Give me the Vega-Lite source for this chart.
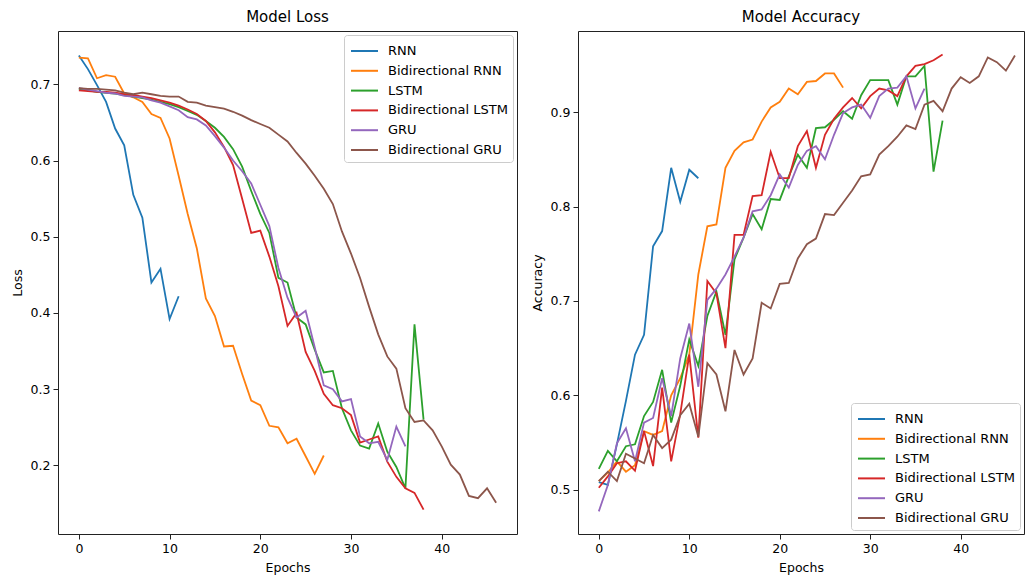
{
  "$schema": "https://vega.github.io/schema/vega-lite/v6.json",
  "padding": {"left": 10, "top": 9, "right": 0, "bottom": 0},
  "spacing": 12,
  "background": "white",
  "config": {
    "font": "DejaVu Sans",
    "view": {"stroke": "#222", "strokeWidth": 1},
    "title": {"fontSize": 15, "fontWeight": "normal", "color": "black", "offset": 6, "anchor": "middle", "font": "DejaVu Sans"},
    "axis": {"labelFont": "DejaVu Sans", "titleFont": "DejaVu Sans", "labelFontSize": 12.5, "titleFontSize": 12.5, "titleFontWeight": "normal", "labelColor": "black", "titleColor": "black", "tickColor": "#222", "tickSize": 5, "labelPadding": 3, "grid": false, "domain": false},
    "axisX": {"titlePadding": 7},
    "axisY": {"titlePadding": 6},
    "legend": {"labelFont": "DejaVu Sans", "labelFontSize": 13, "labelColor": "black", "symbolType": "M-0.9,0H1.8", "symbolSize": 400, "symbolStrokeWidth": 2, "labelOffset": 17, "strokeColor": "#cccccc", "fillColor": "rgba(255,255,255,0.85)", "padding": 5, "cornerRadius": 3, "rowPadding": 1.8, "offset": 4, "title": null}
  },
  "datasets": {
    "d": [
      {"m":"RNN","e":0,"loss":0.738,"acc":0.508},{"m":"RNN","e":1,"loss":0.72,"acc":0.505},{"m":"RNN","e":2,"loss":0.699,"acc":0.548},{"m":"RNN","e":3,"loss":0.677,"acc":0.594},{"m":"RNN","e":4,"loss":0.642,"acc":0.643},{"m":"RNN","e":5,"loss":0.62,"acc":0.664},{"m":"RNN","e":6,"loss":0.555,"acc":0.758},{"m":"RNN","e":7,"loss":0.525,"acc":0.774},{"m":"RNN","e":8,"loss":0.44,"acc":0.841},{"m":"RNN","e":9,"loss":0.458,"acc":0.805},{"m":"RNN","e":10,"loss":0.392,"acc":0.839},{"m":"RNN","e":11,"loss":0.422,"acc":0.83},
      {"m":"Bidirectional RNN","e":0,"loss":0.735,"acc":0.509},{"m":"Bidirectional RNN","e":1,"loss":0.734,"acc":0.518},{"m":"Bidirectional RNN","e":2,"loss":0.708,"acc":0.53},{"m":"Bidirectional RNN","e":3,"loss":0.712,"acc":0.519},{"m":"Bidirectional RNN","e":4,"loss":0.71,"acc":0.526},{"m":"Bidirectional RNN","e":5,"loss":0.688,"acc":0.562},{"m":"Bidirectional RNN","e":6,"loss":0.683,"acc":0.558},{"m":"Bidirectional RNN","e":7,"loss":0.677,"acc":0.562},{"m":"Bidirectional RNN","e":8,"loss":0.661,"acc":0.6},{"m":"Bidirectional RNN","e":9,"loss":0.656,"acc":0.618},{"m":"Bidirectional RNN","e":10,"loss":0.629,"acc":0.643},{"m":"Bidirectional RNN","e":11,"loss":0.58,"acc":0.728},{"m":"Bidirectional RNN","e":12,"loss":0.53,"acc":0.779},{"m":"Bidirectional RNN","e":13,"loss":0.485,"acc":0.781},{"m":"Bidirectional RNN","e":14,"loss":0.419,"acc":0.841},{"m":"Bidirectional RNN","e":15,"loss":0.396,"acc":0.859},{"m":"Bidirectional RNN","e":16,"loss":0.356,"acc":0.868},{"m":"Bidirectional RNN","e":17,"loss":0.357,"acc":0.871},{"m":"Bidirectional RNN","e":18,"loss":0.32,"acc":0.89},{"m":"Bidirectional RNN","e":19,"loss":0.285,"acc":0.905},{"m":"Bidirectional RNN","e":20,"loss":0.279,"acc":0.911},{"m":"Bidirectional RNN","e":21,"loss":0.252,"acc":0.925},{"m":"Bidirectional RNN","e":22,"loss":0.25,"acc":0.919},{"m":"Bidirectional RNN","e":23,"loss":0.229,"acc":0.932},{"m":"Bidirectional RNN","e":24,"loss":0.235,"acc":0.933},{"m":"Bidirectional RNN","e":25,"loss":0.212,"acc":0.941},{"m":"Bidirectional RNN","e":26,"loss":0.189,"acc":0.941},{"m":"Bidirectional RNN","e":27,"loss":0.213,"acc":0.926},
      {"m":"LSTM","e":0,"loss":0.694,"acc":0.522},{"m":"LSTM","e":1,"loss":0.692,"acc":0.541},{"m":"LSTM","e":2,"loss":0.69,"acc":0.53},{"m":"LSTM","e":3,"loss":0.689,"acc":0.546},{"m":"LSTM","e":4,"loss":0.688,"acc":0.548},{"m":"LSTM","e":5,"loss":0.686,"acc":0.578},{"m":"LSTM","e":6,"loss":0.684,"acc":0.593},{"m":"LSTM","e":7,"loss":0.682,"acc":0.627},{"m":"LSTM","e":8,"loss":0.68,"acc":0.571},{"m":"LSTM","e":9,"loss":0.677,"acc":0.61},{"m":"LSTM","e":10,"loss":0.674,"acc":0.659},{"m":"LSTM","e":11,"loss":0.67,"acc":0.631},{"m":"LSTM","e":12,"loss":0.665,"acc":0.684},{"m":"LSTM","e":13,"loss":0.66,"acc":0.71},{"m":"LSTM","e":14,"loss":0.652,"acc":0.664},{"m":"LSTM","e":15,"loss":0.643,"acc":0.744},{"m":"LSTM","e":16,"loss":0.631,"acc":0.767},{"m":"LSTM","e":17,"loss":0.615,"acc":0.792},{"m":"LSTM","e":18,"loss":0.592,"acc":0.776},{"m":"LSTM","e":19,"loss":0.56,"acc":0.808},{"m":"LSTM","e":20,"loss":0.53,"acc":0.807},{"m":"LSTM","e":21,"loss":0.505,"acc":0.832},{"m":"LSTM","e":22,"loss":0.446,"acc":0.855},{"m":"LSTM","e":23,"loss":0.44,"acc":0.841},{"m":"LSTM","e":24,"loss":0.394,"acc":0.883},{"m":"LSTM","e":25,"loss":0.385,"acc":0.884},{"m":"LSTM","e":26,"loss":0.352,"acc":0.892},{"m":"LSTM","e":27,"loss":0.322,"acc":0.901},{"m":"LSTM","e":28,"loss":0.324,"acc":0.893},{"m":"LSTM","e":29,"loss":0.275,"acc":0.918},{"m":"LSTM","e":30,"loss":0.246,"acc":0.934},{"m":"LSTM","e":31,"loss":0.226,"acc":0.934},{"m":"LSTM","e":32,"loss":0.222,"acc":0.934},{"m":"LSTM","e":33,"loss":0.255,"acc":0.908},{"m":"LSTM","e":34,"loss":0.218,"acc":0.938},{"m":"LSTM","e":35,"loss":0.198,"acc":0.938},{"m":"LSTM","e":36,"loss":0.17,"acc":0.949},{"m":"LSTM","e":37,"loss":0.385,"acc":0.837},{"m":"LSTM","e":38,"loss":0.26,"acc":0.891},
      {"m":"Bidirectional LSTM","e":0,"loss":0.692,"acc":0.502},{"m":"Bidirectional LSTM","e":1,"loss":0.691,"acc":0.514},{"m":"Bidirectional LSTM","e":2,"loss":0.69,"acc":0.528},{"m":"Bidirectional LSTM","e":3,"loss":0.69,"acc":0.53},{"m":"Bidirectional LSTM","e":4,"loss":0.689,"acc":0.52},{"m":"Bidirectional LSTM","e":5,"loss":0.687,"acc":0.562},{"m":"Bidirectional LSTM","e":6,"loss":0.686,"acc":0.525},{"m":"Bidirectional LSTM","e":7,"loss":0.684,"acc":0.608},{"m":"Bidirectional LSTM","e":8,"loss":0.682,"acc":0.53},{"m":"Bidirectional LSTM","e":9,"loss":0.679,"acc":0.58},{"m":"Bidirectional LSTM","e":10,"loss":0.676,"acc":0.643},{"m":"Bidirectional LSTM","e":11,"loss":0.672,"acc":0.555},{"m":"Bidirectional LSTM","e":12,"loss":0.667,"acc":0.721},{"m":"Bidirectional LSTM","e":13,"loss":0.661,"acc":0.708},{"m":"Bidirectional LSTM","e":14,"loss":0.652,"acc":0.65},{"m":"Bidirectional LSTM","e":15,"loss":0.637,"acc":0.77},{"m":"Bidirectional LSTM","e":16,"loss":0.618,"acc":0.77},{"m":"Bidirectional LSTM","e":17,"loss":0.594,"acc":0.811},{"m":"Bidirectional LSTM","e":18,"loss":0.55,"acc":0.812},{"m":"Bidirectional LSTM","e":19,"loss":0.505,"acc":0.858},{"m":"Bidirectional LSTM","e":20,"loss":0.508,"acc":0.83},{"m":"Bidirectional LSTM","e":21,"loss":0.474,"acc":0.83},{"m":"Bidirectional LSTM","e":22,"loss":0.435,"acc":0.864},{"m":"Bidirectional LSTM","e":23,"loss":0.383,"acc":0.88},{"m":"Bidirectional LSTM","e":24,"loss":0.4,"acc":0.841},{"m":"Bidirectional LSTM","e":25,"loss":0.349,"acc":0.876},{"m":"Bidirectional LSTM","e":26,"loss":0.324,"acc":0.893},{"m":"Bidirectional LSTM","e":27,"loss":0.294,"acc":0.905},{"m":"Bidirectional LSTM","e":28,"loss":0.279,"acc":0.915},{"m":"Bidirectional LSTM","e":29,"loss":0.275,"acc":0.904},{"m":"Bidirectional LSTM","e":30,"loss":0.266,"acc":0.917},{"m":"Bidirectional LSTM","e":31,"loss":0.23,"acc":0.925},{"m":"Bidirectional LSTM","e":32,"loss":0.234,"acc":0.923},{"m":"Bidirectional LSTM","e":33,"loss":0.238,"acc":0.917},{"m":"Bidirectional LSTM","e":34,"loss":0.205,"acc":0.938},{"m":"Bidirectional LSTM","e":35,"loss":0.185,"acc":0.949},{"m":"Bidirectional LSTM","e":36,"loss":0.17,"acc":0.951},{"m":"Bidirectional LSTM","e":37,"loss":0.164,"acc":0.955},{"m":"Bidirectional LSTM","e":38,"loss":0.142,"acc":0.961},
      {"m":"GRU","e":0,"loss":0.695,"acc":0.477},{"m":"GRU","e":1,"loss":0.693,"acc":0.505},{"m":"GRU","e":2,"loss":0.691,"acc":0.549},{"m":"GRU","e":3,"loss":0.689,"acc":0.565},{"m":"GRU","e":4,"loss":0.688,"acc":0.53},{"m":"GRU","e":5,"loss":0.685,"acc":0.571},{"m":"GRU","e":6,"loss":0.684,"acc":0.576},{"m":"GRU","e":7,"loss":0.683,"acc":0.618},{"m":"GRU","e":8,"loss":0.679,"acc":0.578},{"m":"GRU","e":9,"loss":0.676,"acc":0.639},{"m":"GRU","e":10,"loss":0.671,"acc":0.676},{"m":"GRU","e":11,"loss":0.666,"acc":0.609},{"m":"GRU","e":12,"loss":0.657,"acc":0.701},{"m":"GRU","e":13,"loss":0.654,"acc":0.713},{"m":"GRU","e":14,"loss":0.646,"acc":0.728},{"m":"GRU","e":15,"loss":0.632,"acc":0.747},{"m":"GRU","e":16,"loss":0.617,"acc":0.767},{"m":"GRU","e":17,"loss":0.6,"acc":0.795},{"m":"GRU","e":18,"loss":0.586,"acc":0.797},{"m":"GRU","e":19,"loss":0.57,"acc":0.812},{"m":"GRU","e":20,"loss":0.542,"acc":0.834},{"m":"GRU","e":21,"loss":0.514,"acc":0.82},{"m":"GRU","e":22,"loss":0.459,"acc":0.844},{"m":"GRU","e":23,"loss":0.42,"acc":0.859},{"m":"GRU","e":24,"loss":0.394,"acc":0.864},{"m":"GRU","e":25,"loss":0.403,"acc":0.85},{"m":"GRU","e":26,"loss":0.355,"acc":0.876},{"m":"GRU","e":27,"loss":0.305,"acc":0.899},{"m":"GRU","e":28,"loss":0.3,"acc":0.905},{"m":"GRU","e":29,"loss":0.284,"acc":0.908},{"m":"GRU","e":30,"loss":0.287,"acc":0.894},{"m":"GRU","e":31,"loss":0.238,"acc":0.917},{"m":"GRU","e":32,"loss":0.229,"acc":0.925},{"m":"GRU","e":33,"loss":0.231,"acc":0.926},{"m":"GRU","e":34,"loss":0.207,"acc":0.938},{"m":"GRU","e":35,"loss":0.251,"acc":0.904},{"m":"GRU","e":36,"loss":0.225,"acc":0.925},
      {"m":"Bidirectional GRU","e":0,"loss":0.695,"acc":0.509},{"m":"Bidirectional GRU","e":1,"loss":0.694,"acc":0.519},{"m":"Bidirectional GRU","e":2,"loss":0.694,"acc":0.509},{"m":"Bidirectional GRU","e":3,"loss":0.693,"acc":0.538},{"m":"Bidirectional GRU","e":4,"loss":0.692,"acc":0.533},{"m":"Bidirectional GRU","e":5,"loss":0.689,"acc":0.528},{"m":"Bidirectional GRU","e":6,"loss":0.687,"acc":0.558},{"m":"Bidirectional GRU","e":7,"loss":0.689,"acc":0.544},{"m":"Bidirectional GRU","e":8,"loss":0.687,"acc":0.553},{"m":"Bidirectional GRU","e":9,"loss":0.685,"acc":0.579},{"m":"Bidirectional GRU","e":10,"loss":0.684,"acc":0.591},{"m":"Bidirectional GRU","e":11,"loss":0.684,"acc":0.556},{"m":"Bidirectional GRU","e":12,"loss":0.677,"acc":0.634},{"m":"Bidirectional GRU","e":13,"loss":0.676,"acc":0.622},{"m":"Bidirectional GRU","e":14,"loss":0.672,"acc":0.583},{"m":"Bidirectional GRU","e":15,"loss":0.67,"acc":0.648},{"m":"Bidirectional GRU","e":16,"loss":0.668,"acc":0.622},{"m":"Bidirectional GRU","e":17,"loss":0.664,"acc":0.639},{"m":"Bidirectional GRU","e":18,"loss":0.659,"acc":0.698},{"m":"Bidirectional GRU","e":19,"loss":0.653,"acc":0.692},{"m":"Bidirectional GRU","e":20,"loss":0.648,"acc":0.718},{"m":"Bidirectional GRU","e":21,"loss":0.643,"acc":0.719},{"m":"Bidirectional GRU","e":22,"loss":0.634,"acc":0.745},{"m":"Bidirectional GRU","e":23,"loss":0.625,"acc":0.76},{"m":"Bidirectional GRU","e":24,"loss":0.61,"acc":0.766},{"m":"Bidirectional GRU","e":25,"loss":0.596,"acc":0.792},{"m":"Bidirectional GRU","e":26,"loss":0.58,"acc":0.791},{"m":"Bidirectional GRU","e":27,"loss":0.563,"acc":0.804},{"m":"Bidirectional GRU","e":28,"loss":0.543,"acc":0.817},{"m":"Bidirectional GRU","e":29,"loss":0.507,"acc":0.832},{"m":"Bidirectional GRU","e":30,"loss":0.478,"acc":0.834},{"m":"Bidirectional GRU","e":31,"loss":0.446,"acc":0.855},{"m":"Bidirectional GRU","e":32,"loss":0.408,"acc":0.864},{"m":"Bidirectional GRU","e":33,"loss":0.372,"acc":0.874},{"m":"Bidirectional GRU","e":34,"loss":0.343,"acc":0.886},{"m":"Bidirectional GRU","e":35,"loss":0.327,"acc":0.882},{"m":"Bidirectional GRU","e":36,"loss":0.275,"acc":0.908},{"m":"Bidirectional GRU","e":37,"loss":0.257,"acc":0.912},{"m":"Bidirectional GRU","e":38,"loss":0.259,"acc":0.901},{"m":"Bidirectional GRU","e":39,"loss":0.246,"acc":0.925},{"m":"Bidirectional GRU","e":40,"loss":0.225,"acc":0.937},{"m":"Bidirectional GRU","e":41,"loss":0.201,"acc":0.931},{"m":"Bidirectional GRU","e":42,"loss":0.188,"acc":0.938},{"m":"Bidirectional GRU","e":43,"loss":0.16,"acc":0.958},{"m":"Bidirectional GRU","e":44,"loss":0.157,"acc":0.953},{"m":"Bidirectional GRU","e":45,"loss":0.17,"acc":0.944},{"m":"Bidirectional GRU","e":46,"loss":0.151,"acc":0.96}
    ]
  },
  "resolve": {"legend": {"color": "independent"}, "scale": {"x": "independent", "y": "independent"}},
  "hconcat": [
    {
      "title": "Model Loss",
      "width": 459,
      "height": 503,
      "data": {"name": "d"},
      "mark": {"type": "line", "strokeWidth": 1.8},
      "encoding": {
        "x": {"field": "e", "type": "quantitative", "title": "Epochs", "scale": {"domain": [-2.3, 48.3], "nice": false, "zero": false}, "axis": {"values": [0, 10, 20, 30, 40]}},
        "y": {"field": "loss", "type": "quantitative", "title": "Loss", "scale": {"domain": [0.11, 0.77], "nice": false, "zero": false}, "axis": {"values": [0.2, 0.3, 0.4, 0.5, 0.6, 0.7], "format": ".1f"}},
        "color": {"field": "m", "type": "nominal", "sort": null, "scale": {"domain": ["RNN", "Bidirectional RNN", "LSTM", "Bidirectional LSTM", "GRU", "Bidirectional GRU"], "range": ["#1f77b4", "#ff7f0e", "#2ca02c", "#d62728", "#9467bd", "#8c564b"]}, "legend": {"orient": "top-right"}},
        "order": {"field": "e", "type": "quantitative"}
      }
    },
    {
      "title": "Model Accuracy",
      "width": 446,
      "height": 503,
      "data": {"name": "d"},
      "mark": {"type": "line", "strokeWidth": 1.8, "clip": true},
      "encoding": {
        "x": {"field": "e", "type": "quantitative", "title": "Epochs", "scale": {"domain": [-2.3, 47.0], "nice": false, "zero": false}, "axis": {"values": [0, 10, 20, 30, 40]}},
        "y": {"field": "acc", "type": "quantitative", "title": "Accuracy", "scale": {"domain": [0.453, 0.986], "nice": false, "zero": false}, "axis": {"values": [0.5, 0.6, 0.7, 0.8, 0.9], "format": ".1f"}},
        "color": {"field": "m", "type": "nominal", "sort": null, "scale": {"domain": ["RNN", "Bidirectional RNN", "LSTM", "Bidirectional LSTM", "GRU", "Bidirectional GRU"], "range": ["#1f77b4", "#ff7f0e", "#2ca02c", "#d62728", "#9467bd", "#8c564b"]}, "legend": {"orient": "bottom-right"}},
        "order": {"field": "e", "type": "quantitative"}
      }
    }
  ]
}
